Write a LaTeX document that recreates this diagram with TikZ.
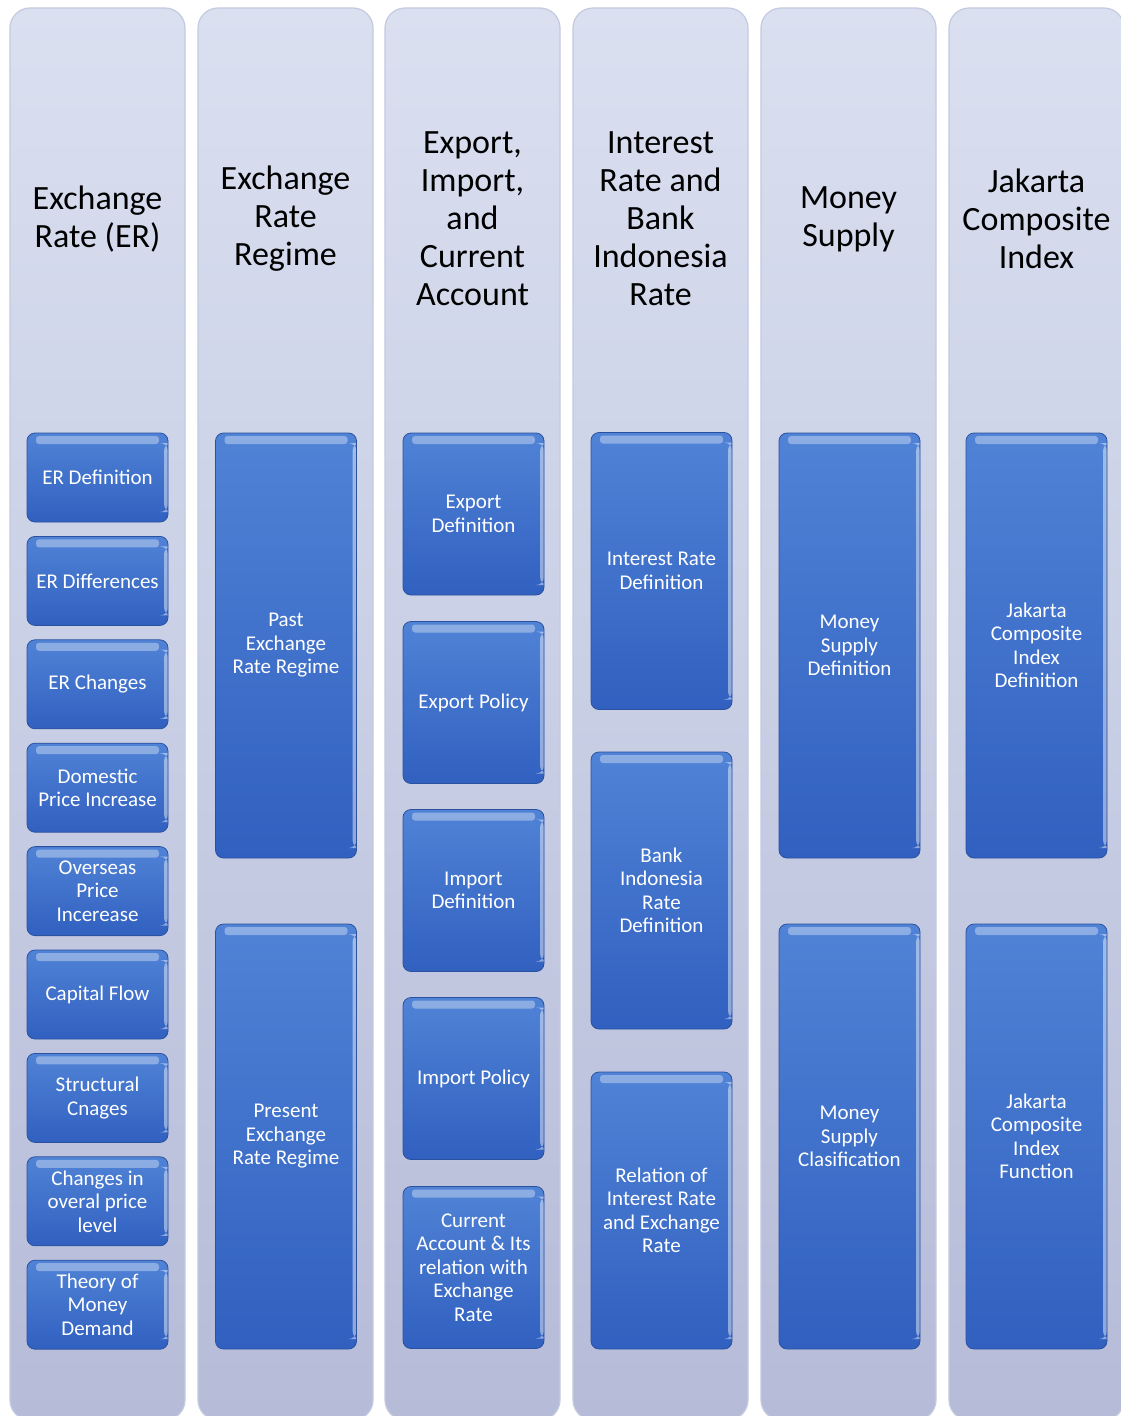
\documentclass[tikz,border=0pt]{standalone}
\usepackage{fontspec}
\setmainfont{Carlito}
\usepackage{xcolor}
\usetikzlibrary{positioning}
\definecolor{lanetop}{HTML}{DAE0F0}
\definecolor{lanebot}{HTML}{B6BCD8}
\definecolor{laneedge}{HTML}{C4CADF}
\definecolor{boxtop}{HTML}{5083D6}
\definecolor{boxbot}{HTML}{3160C0}
\definecolor{boxedge}{HTML}{2B529F}

\begin{document}
\begin{tikzpicture}[x=1pt, y=-1pt,
  lane/.style={draw=laneedge, line width=1.2pt, rounded corners=20pt, top color=lanetop, bottom color=lanebot,
    minimum width=175pt, minimum height=1412pt, inner sep=0pt},
  hdr/.style={align=center, text=black, font=\fontsize{34}{38}\selectfont},
  blk/.style={draw=boxedge, line width=0.8pt, rounded corners=8pt, top color=boxtop, bottom color=boxbot,
    text=white, align=center, minimum width=141pt, inner sep=2pt, font=\fontsize{21}{23.5}\selectfont,
    path picture={
      \fill[white, opacity=0.35, rounded corners=3pt] ([xshift=9pt,yshift=-3pt]path picture bounding box.north west)
        rectangle ([xshift=-9pt,yshift=-11pt]path picture bounding box.north east);
      \fill[white, opacity=0.45] ([xshift=-4pt,yshift=-10pt]path picture bounding box.north east)
        rectangle ([yshift=10pt]path picture bounding box.south east);}},
  sml/.style={blk, minimum height=89pt},
  mid/.style={blk, minimum height=162pt},
  tri/.style={blk, minimum height=277pt},
  big/.style={blk, minimum height=425pt}]
\useasboundingbox (0,0) rectangle (1120,1416);
\fill[white] (0,0) rectangle (1120,1416);

% six vertical lanes
\node[lane] (L1) at (97.5,714) {};
\node[lane] (L2) at (285.5,714) {};
\node[lane] (L3) at (472.5,714) {};
\node[lane] (L4) at (660.5,714) {};
\node[lane] (L5) at (848.5,714) {};
\node[lane] (L6) at (1036.5,714) {};

% lane titles
\node[hdr] (H1) at (97.5,219) {Exchange\\Rate (ER)};
\node[hdr] (H2) at (285.5,219) {Exchange\\Rate\\Regime};
\node[hdr] (H3) at (472.5,219) {Export,\\Import,\\and\\Current\\Account};
\node[hdr] (H4) at (660.5,219) {Interest\\Rate and\\Bank\\Indonesia\\Rate};
\node[hdr] (H5) at (848.5,219) {Money\\Supply};
\node[hdr] (H6) at (1036.5,219) {Jakarta\\Composite\\Index};

% exchange rate topics
\node[sml] (E1) at (97.5,477.5) {ER Definition};
\node[sml] (E2) at (97.5,580.9) {ER Differences};
\node[sml] (E3) at (97.5,684.3) {ER Changes};
\node[sml] (E4) at (97.5,787.7) {Domestic\\Price Increase};
\node[sml] (E5) at (97.5,891.1) {Overseas\\Price\\Incerease};
\node[sml] (E6) at (97.5,994.5) {Capital Flow};
\node[sml] (E7) at (97.5,1097.9) {Structural\\Cnages};
\node[sml] (E8) at (97.5,1201.3) {Changes in\\overal price\\level};
\node[sml] (E9) at (97.5,1304.7) {Theory of\\Money\\Demand};

% regime
\node[big] (R1) at (286,645.5) {Past\\Exchange\\Rate Regime};
\node[big] (R2) at (286,1136.5) {Present\\Exchange\\Rate Regime};

% trade and current account
\node[mid] (T1) at (473.5,514) {Export\\Definition};
\node[mid] (T2) at (473.5,702.5) {Export Policy};
\node[mid] (T3) at (473.5,890.5) {Import\\Definition};
\node[mid] (T4) at (473.5,1078.5) {Import Policy};
\node[mid] (T5) at (473.5,1267.5) {Current\\Account \& Its\\relation with\\Exchange\\Rate};

% interest rate
\node[tri] (I1) at (661.5,571) {Interest Rate\\Definition};
\node[tri] (I2) at (661.5,890.5) {Bank\\Indonesia\\Rate\\Definition};
\node[tri] (I3) at (661.5,1210.5) {Relation of\\Interest Rate\\and Exchange\\Rate};

% money supply
\node[big] (M1) at (849.5,645.5) {Money\\Supply\\Definition};
\node[big] (M2) at (849.5,1136.5) {Money\\Supply\\Clasification};

% composite index
\node[big] (J1) at (1036.5,645.5) {Jakarta\\Composite\\Index\\Definition};
\node[big] (J2) at (1036.5,1136.5) {Jakarta\\Composite\\Index\\Function};
\end{tikzpicture}
\end{document}
